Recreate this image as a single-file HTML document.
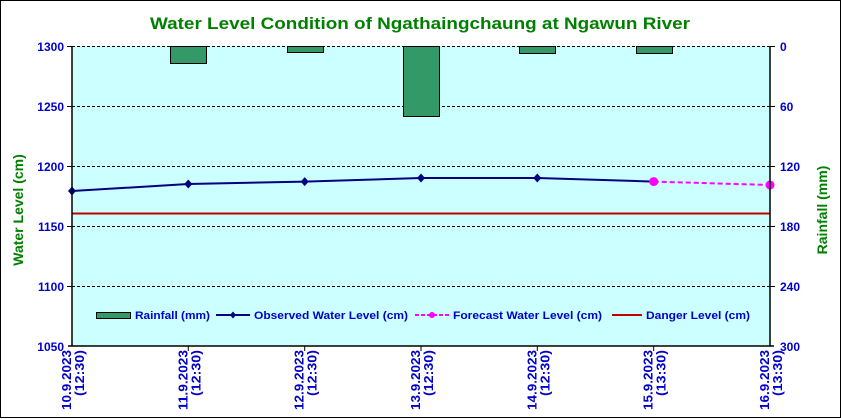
<!DOCTYPE html>
<html><head><style>body{margin:0;background:#fff}svg{display:block}text{font-family:"Liberation Sans",Arial,sans-serif;font-weight:bold}</style></head><body>
<svg width="841" height="419" viewBox="0 0 841 419">
<rect x="0.5" y="0.5" width="840" height="417" fill="#fff" stroke="#000"/>
<text x="420" y="29" text-anchor="middle" font-size="17" fill="#008000" textLength="540" lengthAdjust="spacingAndGlyphs">Water Level Condition of  Ngathaingchaung at Ngawun River</text>
<rect x="72" y="46" width="698" height="300" fill="#ccffff"/>
<g stroke="#000" stroke-dasharray="3,2" stroke-width="1">
<line x1="72" y1="46.5" x2="770" y2="46.5"/><line x1="72" y1="106.5" x2="770" y2="106.5"/><line x1="72" y1="166.5" x2="770" y2="166.5"/><line x1="72" y1="226.5" x2="770" y2="226.5"/><line x1="72" y1="286.5" x2="770" y2="286.5"/>
</g>
<g fill="#339966" stroke="#000" stroke-width="1">
<rect x="170.5" y="46.5" width="36" height="17"/>
<rect x="287.5" y="46.5" width="36" height="6"/>
<rect x="403.5" y="46.5" width="36" height="70"/>
<rect x="519.5" y="46.5" width="36" height="7"/>
<rect x="636.5" y="46.5" width="36" height="7"/>
</g>
<line x1="72" y1="213.5" x2="770" y2="213.5" stroke="#c00000" stroke-width="2"/>
<polyline points="72,191 188.3,184 304.7,181.6 421,178 537.3,178 653.7,181.6" fill="none" stroke="#000080" stroke-width="2"/>
<g fill="#000080">
<path d="M72,186.5l4,4.5l-4,4.5l-4,-4.5z"/><path d="M188.3,179.5l4,4.5l-4,4.5l-4,-4.5z"/><path d="M304.7,177.1l4,4.5l-4,4.5l-4,-4.5z"/><path d="M421,173.5l4,4.5l-4,4.5l-4,-4.5z"/><path d="M537.3,173.5l4,4.5l-4,4.5l-4,-4.5z"/>
</g>
<line x1="653.7" y1="181.6" x2="770" y2="185" stroke="#ff00ff" stroke-width="2" stroke-dasharray="5,3"/>
<circle cx="653.7" cy="181.6" r="4.5" fill="#ff00ff"/><circle cx="770" cy="185" r="4.5" fill="#ff00ff"/>
<g stroke="#000" stroke-width="1.5">
<line x1="72" y1="46" x2="72" y2="346"/><line x1="770" y1="46" x2="770" y2="346"/><line x1="68" y1="346" x2="774" y2="346"/>
</g>
<g stroke="#000"><line x1="67" y1="46.5" x2="72" y2="46.5"/><line x1="67" y1="106.5" x2="72" y2="106.5"/><line x1="67" y1="166.5" x2="72" y2="166.5"/><line x1="67" y1="226.5" x2="72" y2="226.5"/><line x1="67" y1="286.5" x2="72" y2="286.5"/>
<line x1="770" y1="46.5" x2="775" y2="46.5"/><line x1="770" y1="106.5" x2="775" y2="106.5"/><line x1="770" y1="166.5" x2="775" y2="166.5"/><line x1="770" y1="226.5" x2="775" y2="226.5"/><line x1="770" y1="286.5" x2="775" y2="286.5"/>
<line x1="188.3" y1="346" x2="188.3" y2="351"/><line x1="304.7" y1="346" x2="304.7" y2="351"/><line x1="421" y1="346" x2="421" y2="351"/><line x1="537.3" y1="346" x2="537.3" y2="351"/><line x1="653.7" y1="346" x2="653.7" y2="351"/></g>
<g fill="#0000cc" font-size="12" text-anchor="end">
<text x="64" y="51">1300</text><text x="64" y="111">1250</text><text x="64" y="171">1200</text><text x="64" y="231">1150</text><text x="64" y="291">1100</text><text x="64" y="351">1050</text>
</g>
<g fill="#0000cc" font-size="12" text-anchor="start">
<text x="780" y="51">0</text><text x="780" y="111">60</text><text x="780" y="171">120</text><text x="780" y="231">180</text><text x="780" y="291">240</text><text x="780" y="351">300</text>
</g>
<text transform="translate(23,210) rotate(-90)" text-anchor="middle" fill="#008000" font-size="14">Water Level (cm)</text>
<text transform="translate(827,210) rotate(-90)" text-anchor="middle" fill="#008000" font-size="14">Rainfall (mm)</text>
<g fill="#0000cc" font-size="13" text-anchor="end">
<g transform="translate(72,350) rotate(-90)"><text x="0" y="-1" textLength="60" lengthAdjust="spacingAndGlyphs">10.9.2023</text><text x="0" y="12" textLength="46" lengthAdjust="spacingAndGlyphs">(12:30)</text></g>
<g transform="translate(188.3,350) rotate(-90)"><text x="0" y="-1" textLength="60" lengthAdjust="spacingAndGlyphs">11.9.2023</text><text x="0" y="12" textLength="46" lengthAdjust="spacingAndGlyphs">(12:30)</text></g>
<g transform="translate(304.7,350) rotate(-90)"><text x="0" y="-1" textLength="60" lengthAdjust="spacingAndGlyphs">12.9.2023</text><text x="0" y="12" textLength="46" lengthAdjust="spacingAndGlyphs">(12:30)</text></g>
<g transform="translate(421,350) rotate(-90)"><text x="0" y="-1" textLength="60" lengthAdjust="spacingAndGlyphs">13.9.2023</text><text x="0" y="12" textLength="46" lengthAdjust="spacingAndGlyphs">(12:30)</text></g>
<g transform="translate(537.3,350) rotate(-90)"><text x="0" y="-1" textLength="60" lengthAdjust="spacingAndGlyphs">14.9.2023</text><text x="0" y="12" textLength="46" lengthAdjust="spacingAndGlyphs">(12:30)</text></g>
<g transform="translate(653.7,350) rotate(-90)"><text x="0" y="-1" textLength="60" lengthAdjust="spacingAndGlyphs">15.9.2023</text><text x="0" y="12" textLength="46" lengthAdjust="spacingAndGlyphs">(13:30)</text></g>
<g transform="translate(770,350) rotate(-90)"><text x="0" y="-1" textLength="60" lengthAdjust="spacingAndGlyphs">16.9.2023</text><text x="0" y="12" textLength="46" lengthAdjust="spacingAndGlyphs">(13:30)</text></g>
</g>
<g font-size="11" fill="#0000cc">
<rect x="96.5" y="312.5" width="34" height="6" fill="#339966" stroke="#000"/>
<text x="135" y="319" textLength="75" lengthAdjust="spacingAndGlyphs">Rainfall (mm)</text>
<line x1="216" y1="315" x2="250" y2="315" stroke="#000080" stroke-width="2"/><path d="M233,311.5l3,3.5l-3,3.5l-3,-3.5z" fill="#000080"/>
<text x="254" y="319" textLength="154" lengthAdjust="spacingAndGlyphs">Observed Water Level (cm)</text>
<line x1="415" y1="315" x2="449" y2="315" stroke="#ff00ff" stroke-width="2" stroke-dasharray="4,2"/><circle cx="432" cy="315" r="3" fill="#ff00ff"/>
<text x="453" y="319" textLength="149" lengthAdjust="spacingAndGlyphs">Forecast Water Level (cm)</text>
<line x1="612" y1="315" x2="642" y2="315" stroke="#c00000" stroke-width="2"/>
<text x="646" y="319" textLength="104" lengthAdjust="spacingAndGlyphs">Danger Level (cm)</text>
</g>
</svg>
</body></html>
